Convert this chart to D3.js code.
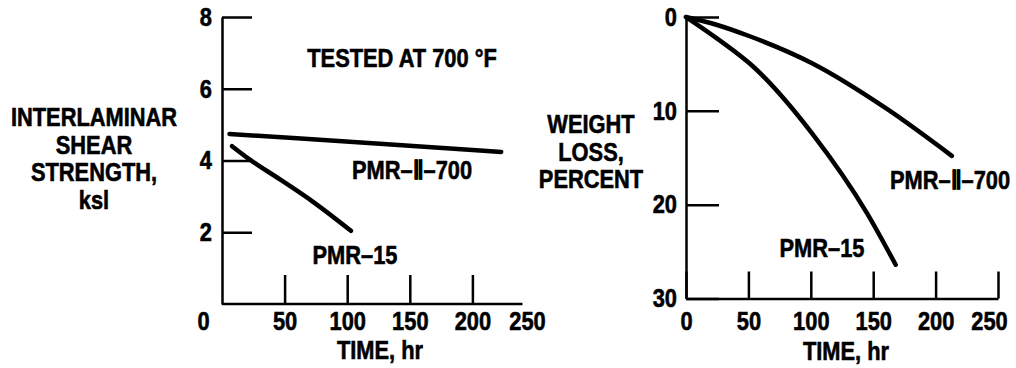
<!DOCTYPE html>
<html>
<head>
<meta charset="utf-8">
<script src="https://cdn.jsdelivr.net/npm/d3@7"></script>
<style>
  body { margin: 0; background: #fff; }
  svg text { font-family: "Liberation Sans", Arial, sans-serif; font-weight: bold; font-size: 26px; fill: #000; stroke: #000; stroke-width: 0.6px; }
</style>
</head>
<body>
<svg id="chart" width="1016" height="368"></svg>
<script>
// Left panel: interlaminar shear strength (ksi) vs time at 700 F
var shearTicksY = [2, 4, 6, 8];
var timeTicks = [0, 50, 100, 150, 200, 250];
var shearTimeII = [6, 60, 126, 223];
var shearII = [4.74, 4.62, 4.47, 4.24];
var shearTime15 = [8, 22, 46, 73, 103];
var shear15 = [4.40, 4.03, 3.48, 2.84, 2.04];

// Right panel: weight loss (percent) vs time
var lossTicksY = [0, 10, 20, 30];
var lossTimeII = [0, 25, 50, 101, 161, 213];
var lossII = [0, 0.85, 2.0, 4.93, 9.8, 14.8];
var lossTime15 = [0, 25, 54, 101, 145, 168];
var loss15 = [0, 2.3, 5.3, 12.4, 20.9, 26.4];

var svg = d3.select("#chart");

function zip(xs, ys) {
    return xs.map(function(v, i) { return {t: v, v: ys[i]}; });
}

// narrow the lettering like the condensed type of the original
function squeeze(sel) {
    sel.each(function() {
        var t = d3.select(this);
        var x = +t.attr("x") || 0, y = +t.attr("y") || 0;
        t.attr("x", 0).attr("y", 0)
            .attr("transform", "translate(" + x + "," + y + ") scale(0.84,1)");
    });
}

// ---------- left panel ----------
var xL = d3.scaleLinear().domain([0, 250]).range([222, 535]);
var yL = d3.scaleLinear().domain([0, 8]).range([304, 17]);

var left = svg.append("g");

left.append("g")
    .attr("transform", "translate(" + xL(0) + ",0)")
    .call(d3.axisLeft(yL).tickValues(shearTicksY).tickSize(-30).tickSizeOuter(0).tickPadding(10));

var xAxisL = left.append("g")
    .attr("transform", "translate(0," + yL(0) + ")")
    .call(d3.axisBottom(xL).tickValues(timeTicks).tickSize(-29).tickSizeOuter(0).tickPadding(8));
// axis line stops short of 250, no marks at 0 and 250
xAxisL.select(".domain").attr("d", "M" + xL(0) + ",0H" + xL(240));
xAxisL.selectAll(".tick").filter(function(d) { return d === 0 || d === 250; }).select("line").remove();
xAxisL.selectAll(".tick").filter(function(d) { return d === 0; }).select("text").attr("x", -19);
xAxisL.selectAll(".tick").filter(function(d) { return d === 250; }).select("text").attr("x", -8);

var lineL = d3.line()
    .x(function(d) { return xL(d.t); })
    .y(function(d) { return yL(d.v); })
    .curve(d3.curveMonotoneX);

left.append("path").datum(zip(shearTimeII, shearII)).attr("d", lineL);
left.append("path").datum(zip(shearTime15, shear15)).attr("d", lineL);

left.append("text").attr("x", 402).attr("y", 67).attr("text-anchor", "middle").text("TESTED AT 700 °F");
left.append("text").attr("x", 412).attr("y", 179).attr("text-anchor", "middle").text("PMR–Ⅱ–700");
left.append("text").attr("x", 355).attr("y", 264).attr("text-anchor", "middle").text("PMR–15");
left.append("text").attr("x", 380).attr("y", 359).attr("text-anchor", "middle").text("TIME, hr");

var titleL = ["INTERLAMINAR", "SHEAR", "STRENGTH,", "ksl"];
left.selectAll(".titleL").data(titleL).enter()
    .append("text")
    .attr("class", "titleL")
    .attr("x", 94)
    .attr("y", function(d, i) { return 126 + i * 27.5; })
    .attr("text-anchor", "middle")
    .text(function(d) { return d; });

// ---------- right panel ----------
var xR = d3.scaleLinear().domain([0, 250]).range([686, 998]);
var yR = d3.scaleLinear().domain([0, 30]).range([17, 298.5]);

var right = svg.append("g");

right.append("g")
    .attr("transform", "translate(" + xR(0) + ",0)")
    .call(d3.axisLeft(yR).tickValues(lossTicksY).tickSize(-33).tickSizeOuter(0).tickPadding(9));

var xAxisR = right.append("g")
    .attr("transform", "translate(0," + yR(30) + ")")
    .call(d3.axisBottom(xR).tickValues(timeTicks).tickSize(-27).tickSizeOuter(0).tickPadding(13));
xAxisR.selectAll(".tick").filter(function(d) { return d === 250; }).select("text").attr("x", -9);

var lineR = d3.line()
    .x(function(d) { return xR(d.t); })
    .y(function(d) { return yR(d.v); })
    .curve(d3.curveMonotoneX);

right.append("path").datum(zip(lossTimeII, lossII)).attr("d", lineR);
right.append("path").datum(zip(lossTime15, loss15)).attr("d", lineR);

right.append("text").attr("x", 950).attr("y", 189).attr("text-anchor", "middle").text("PMR–Ⅱ–700");
right.append("text").attr("x", 822).attr("y", 257).attr("text-anchor", "middle").text("PMR–15");
right.append("text").attr("x", 846).attr("y", 360).attr("text-anchor", "middle").text("TIME, hr");

var titleR = ["WEIGHT", "LOSS,", "PERCENT"];
right.selectAll(".titleR").data(titleR).enter()
    .append("text")
    .attr("class", "titleR")
    .attr("x", 591)
    .attr("y", function(d, i) { return 133 + i * 27.5; })
    .attr("text-anchor", "middle")
    .text(function(d) { return d; });

// shared styling
svg.selectAll("text").call(squeeze);
svg.selectAll(".tick text").attr("font-family", null).attr("font-size", null);
svg.selectAll(".domain, .tick line").attr("stroke", "#000").attr("stroke-width", 2.5);
svg.selectAll("path:not(.domain)").attr("fill", "none").attr("stroke", "#000")
    .attr("stroke-width", 4.5).attr("stroke-linecap", "round");
</script>
</body>
</html>
